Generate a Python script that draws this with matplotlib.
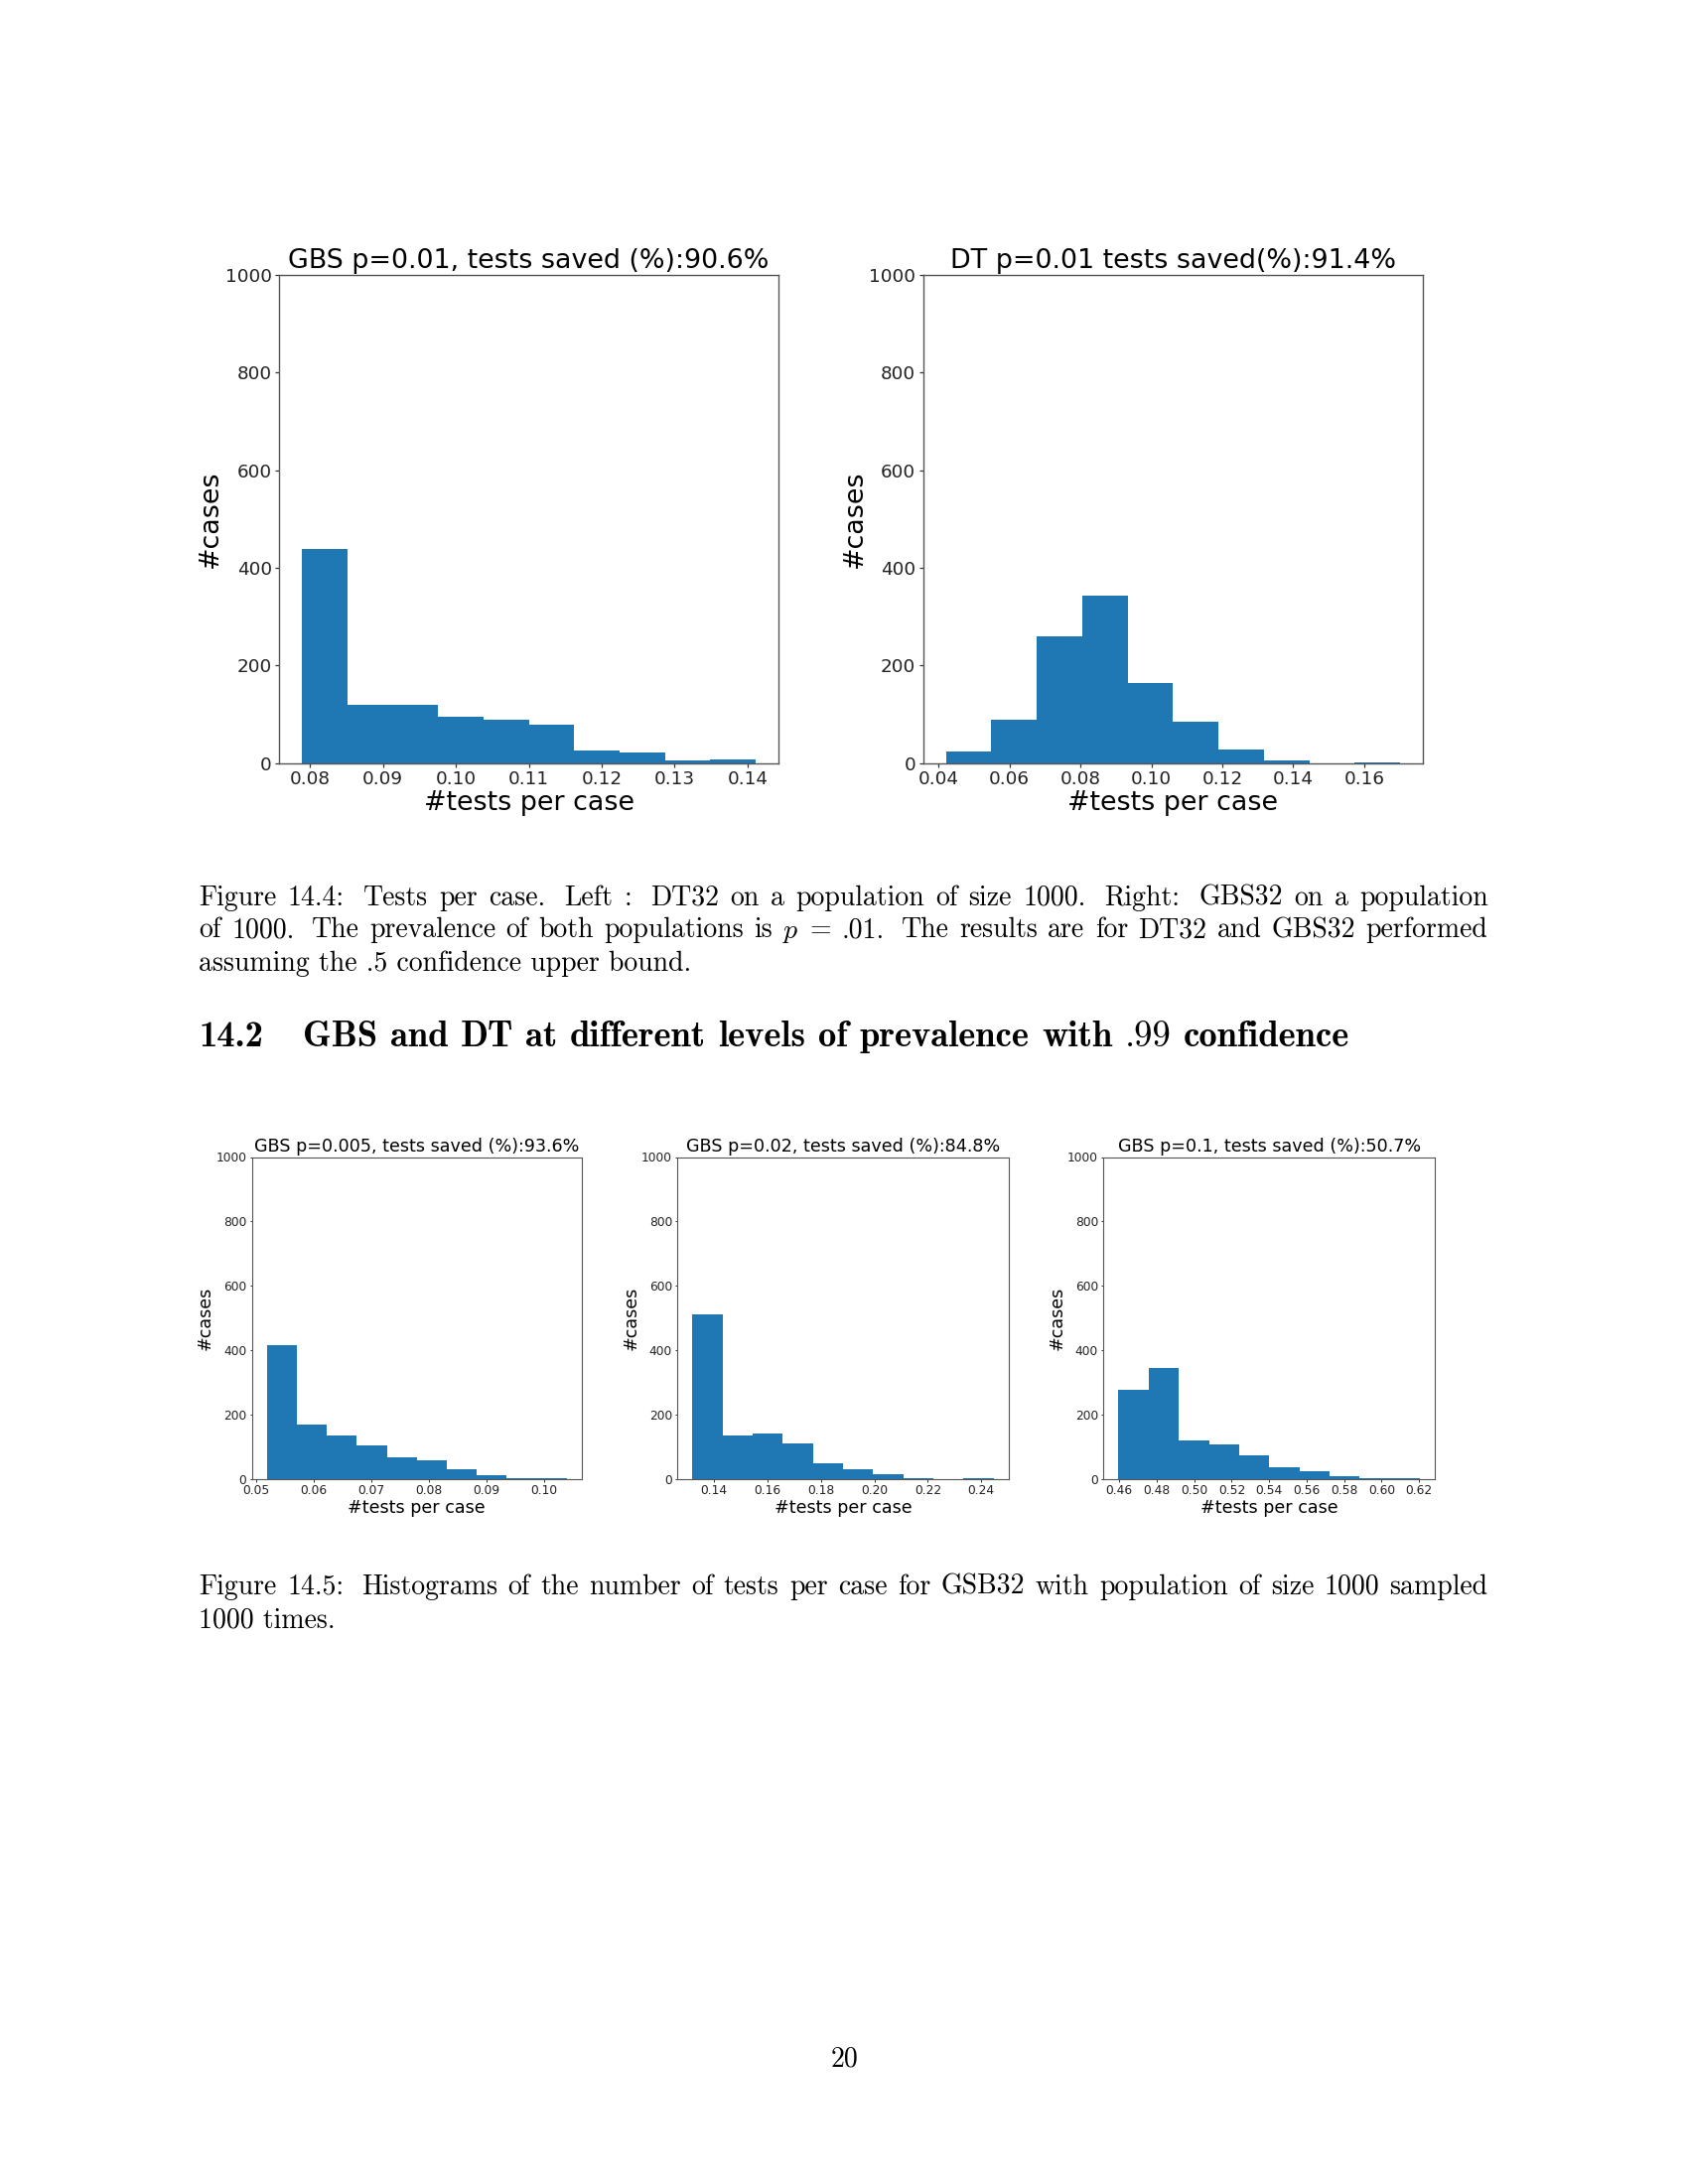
import numpy as np
import matplotlib
matplotlib.use("Agg")
import matplotlib.pyplot as plt

plt.rcParams['mathtext.fontset'] = 'cm'
plt.rcParams['font.family'] = ['DejaVu Sans']

# ---------------- data ----------------
# top row (Figure 14.4)
gbs01_counts = [438, 120, 120, 94, 88, 79, 26, 22, 5, 8]
gbs01_range = (0.07891, 0.14113)
gbs01_title = "GBS p=0.01, tests saved (%):90.6%"
gbs01_xticks = [0.08, 0.09, 0.10, 0.11, 0.12, 0.13, 0.14]

dt01_counts = [24, 89, 260, 344, 164, 85, 28, 5, 0, 1]
dt01_range = (0.0421, 0.17016)
dt01_title = "DT p=0.01 tests saved(%):91.4%"
dt01_xticks = [0.04, 0.06, 0.08, 0.10, 0.12, 0.14, 0.16]

# bottom row (Figure 14.5)
gbs005_counts = [416, 168, 135, 105, 69, 59, 31, 11, 3, 3]
gbs005_range = (0.05184, 0.10397)
gbs005_title = "GBS p=0.005, tests saved (%):93.6%"
gbs005_xticks = [0.05, 0.06, 0.07, 0.08, 0.09, 0.10]

gbs02_counts = [511, 137, 141, 110, 50, 31, 15, 3, 0, 2]
gbs02_range = (0.13195, 0.24471)
gbs02_title = "GBS p=0.02, tests saved (%):84.8%"
gbs02_xticks = [0.14, 0.16, 0.18, 0.20, 0.22, 0.24]

gbs1_counts = [278, 345, 120, 107, 75, 36, 26, 8, 3, 2]
gbs1_range = (0.45965, 0.62053)
gbs1_title = "GBS p=0.1, tests saved (%):50.7%"
gbs1_xticks = [0.46, 0.48, 0.50, 0.52, 0.54, 0.56, 0.58, 0.60, 0.62]

yticks = [0, 200, 400, 600, 800, 1000]
xlabel = "#tests per case"
ylabel = "#cases"

caption1 = [
    "Figure 14.4: Tests per case. Left : DT32 on a population of size 1000. Right: GBS32 on a population",
    "of 1000. The prevalence of both populations is $p$ = .01. The results are for DT32 and GBS32 performed",
    "assuming the .5 confidence upper bound.",
]
heading_num = "14.2"
heading_words = ["GBS", "and", "DT", "at", "different", "levels", "of",
                 "prevalence", "with", ".99", "confidence"]
caption2 = [
    "Figure 14.5: Histograms of the number of tests per case for GSB32 with population of size 1000 sampled",
    "1000 times.",
]
page_no = "20"

# ---------------- figure ----------------
W, H = 1700, 2200
fig = plt.figure(figsize=(8.5, 11), dpi=200)
renderer = fig.canvas.get_renderer()
BLUE = '#1f77b4'


def px_axes(l, t, r, b):
    return fig.add_axes([l / W, 1 - b / H, (r - l) / W, (b - t) / H])


def hist_panel(ax, counts, rng, title, xticks, big):
    counts = np.asarray(counts, float)
    edges = np.linspace(rng[0], rng[1], len(counts) + 1)
    centers = (edges[:-1] + edges[1:]) / 2
    ax.hist(centers, bins=len(counts), range=rng, weights=counts, color=BLUE)
    ax.set_ylim(0, 1000)
    ax.set_yticks(yticks)
    ax.set_xticks(xticks)
    if big:
        fs_t, fs_tick, tl, tw, tp, sw, tpad, lp = 9.7, 6.6, 1.3, 0.45, 1.4, 0.5, 2.4, 0.6
    else:
        fs_t, fs_tick, tl, tw, tp, sw, tpad, lp = 6.3, 4.4, 0.9, 0.35, 1.0, 0.4, 1.8, 0.5
    ax.set_title(title, fontsize=fs_t, pad=tpad)
    ax.set_xlabel(xlabel, fontsize=fs_t, labelpad=lp)
    ax.set_ylabel(ylabel, fontsize=fs_t, labelpad=lp)
    ax.tick_params(labelsize=fs_tick, length=tl, width=tw, pad=tp, colors='#333333',
                   labelcolor='#222222')
    for s in ax.spines.values():
        s.set_linewidth(sw)
        s.set_color('#555555')


ax1 = px_axes(281.3, 277, 784, 768.7)
hist_panel(ax1, gbs01_counts, gbs01_range, gbs01_title, gbs01_xticks, True)
ax2 = px_axes(929.8, 277, 1433, 768.7)
hist_panel(ax2, dt01_counts, dt01_range, dt01_title, dt01_xticks, True)

ax3 = px_axes(253.5, 1165.5, 586, 1490)
hist_panel(ax3, gbs005_counts, gbs005_range, gbs005_title, gbs005_xticks, False)
ax4 = px_axes(682.3, 1165.5, 1016, 1490)
hist_panel(ax4, gbs02_counts, gbs02_range, gbs02_title, gbs02_xticks, False)
ax5 = px_axes(1111.3, 1165.5, 1445.3, 1490)
hist_panel(ax5, gbs1_counts, gbs1_range, gbs1_title, gbs1_xticks, False)

# ---------------- document text ----------------
TXT = dict(family='cmr10', fontsize=10, va='baseline', ha='left', color='black')
X0, X1 = 200.5, 1498.5


def place_words(words, styles, y, x0, x1, weights):
    texts = [fig.text(0, 1 - y / H, w, **s) for w, s in zip(words, styles)]
    widths = [t.get_window_extent(renderer).width for t in texts]
    unit = (x1 - x0 - sum(widths)) / sum(weights)
    x = x0
    for i, (t, w) in enumerate(zip(texts, widths)):
        t.set_x(x / W)
        if i < len(weights):
            x += w + unit * weights[i]


def put_line(line, y, justify, **kw):
    if not justify:
        fig.text(X0 / W, 1 - y / H, line, **kw)
        return
    words = [w for w in line.split(' ') if w]
    weights = []
    for w in words[:-1]:
        weights.append(1.7 if w[-1] in '.:' else 1.0)
    place_words(words, [kw] * len(words), y, X0, X1, weights)


for i, (line, y) in enumerate(zip(caption1, [911.5, 944.5, 977.5])):
    put_line(line, y, i < len(caption1) - 1, **TXT)

HD = dict(family='cmb10', fontsize=13.2, va='baseline', ha='left', color='black')
HR = dict(family='cmr10', fontsize=13.2, va='baseline', ha='left', color='black')
fig.text(X0 / W, 1 - 1054 / H, heading_num, **HD)
hstyles = [HR if w == '.99' else HD for w in heading_words]
place_words(heading_words, hstyles, 1054, 305, 1359, [1.0] * (len(heading_words) - 1))

for i, (line, y) in enumerate(zip(caption2, [1606, 1639.5])):
    put_line(line, y, i < len(caption2) - 1, **TXT)

fig.text(850 / W, 1 - 2082 / H, page_no, family='cmr10', fontsize=10,
         va='baseline', ha='center')

fig.savefig("out.png", dpi=200)
